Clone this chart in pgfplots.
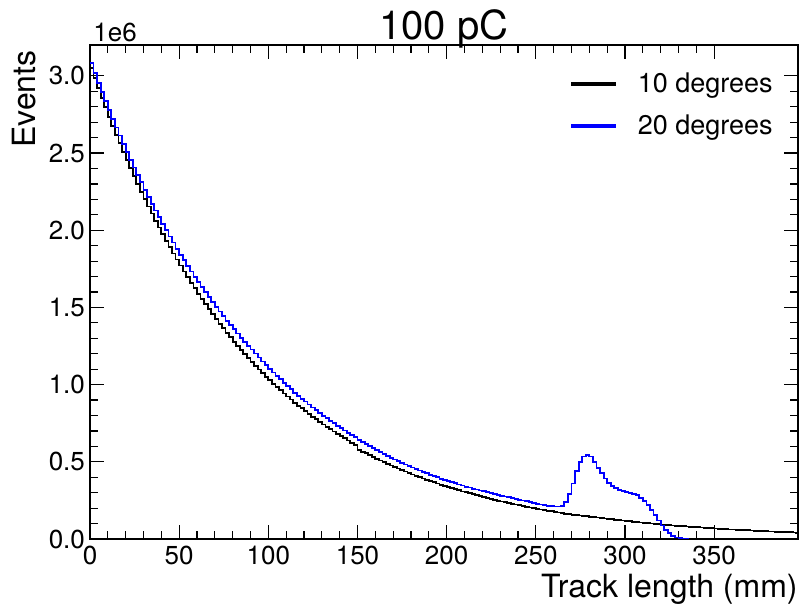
\documentclass[border=0pt]{standalone}
\usepackage{fontspec}
\setmainfont{TeX Gyre Heros}
\usepackage{pgfplots}
\pgfplotsset{compat=1.18}
\begin{document}
\begin{tikzpicture}
\begin{axis}[
 scale only axis, width=354pt, height=247pt,
 xmin=0, xmax=397, ymin=0, ymax=3.2,
 axis line style={line width=1pt},
 tick align=inside, xtick pos=both, ytick pos=both,
 xticklabel pos=lower, yticklabel pos=left,
 xtick={0,50,100,150,200,250,300,350}, minor x tick num=4,
 ytick={0,0.5,1,1.5,2,2.5,3}, minor y tick num=4,
 major tick length=7pt, minor tick length=4pt,
 tick style={black, line width=0.6pt},
 yticklabel style={xshift=1pt, /pgf/number format/.cd, fixed, fixed zerofill, precision=1},
 /pgf/number format/assume math mode=true,
 ticklabel style={font=\fontsize{13}{15}\selectfont},
 title={100 pC},
 every axis title/.style={at={(0.5,1)}, anchor=base, yshift=2.5pt, inner sep=0pt, font=\fontsize{20}{24}\selectfont},
 xlabel={Track length (mm)},
 xlabel style={at={([yshift=-29.5pt]axis description cs:1,0)}, anchor=base east, inner sep=0pt, font=\fontsize{16}{19}\selectfont},
 ylabel={Events},
 ylabel style={at={([xshift=-27pt,yshift=-2.5pt]axis description cs:0,1)}, anchor=base east, inner sep=0pt, font=\fontsize{16}{19}\selectfont},
 legend cell align=left,
 legend image code/.code={\fill[#1] (0pt,-0.5pt) rectangle (21.5pt,0.5pt); \path (30.5pt,-10pt) (30.5pt,10pt);},
 legend style={at={([xshift=-7.5pt,yshift=-7pt]axis description cs:1,1)}, anchor=north east, draw=none, font=\fontsize{13.5}{16}\selectfont},
]
\addplot[color=black, line width=0.9pt, const plot mark left] coordinates {
(0,3.050)(2,2.984)(4,2.920)(6,2.857)(8,2.796)(10,2.736)(12,2.677)(14,2.619)(16,2.563)(18,2.508)
(20,2.454)(22,2.401)(24,2.350)(26,2.299)(28,2.250)(30,2.201)(32,2.154)(34,2.108)(36,2.062)(38,2.018)
(40,1.975)(42,1.932)(44,1.891)(46,1.850)(48,1.810)(50,1.771)(52,1.733)(54,1.696)(56,1.659)(58,1.624)
(60,1.589)(62,1.555)(64,1.521)(66,1.489)(68,1.457)(70,1.425)(72,1.395)(74,1.365)(76,1.335)(78,1.307)
(80,1.278)(82,1.251)(84,1.224)(86,1.198)(88,1.172)(90,1.147)(92,1.122)(94,1.098)(96,1.074)(98,1.051)
(100,1.029)(102,1.006)(104,0.985)(106,0.964)(108,0.943)(110,0.923)(112,0.903)(114,0.883)(116,0.864)(118,0.846)
(120,0.828)(122,0.810)(124,0.792)(126,0.775)(128,0.759)(130,0.742)(132,0.726)(134,0.711)(136,0.696)(138,0.681)
(140,0.666)(142,0.652)(144,0.638)(146,0.624)(148,0.610)(150,0.579)(152,0.566)(154,0.555)(156,0.543)(158,0.532)
(160,0.520)(162,0.508)(164,0.498)(166,0.487)(168,0.476)(170,0.467)(172,0.456)(174,0.446)(176,0.437)(178,0.428)
(180,0.418)(182,0.409)(184,0.401)(186,0.392)(188,0.383)(190,0.375)(192,0.367)(194,0.359)(196,0.351)(198,0.344)
(200,0.337)(202,0.329)(204,0.322)(206,0.315)(208,0.308)(210,0.302)(212,0.296)(214,0.289)(216,0.283)(218,0.276)
(220,0.271)(222,0.265)(224,0.259)(226,0.253)(228,0.248)(230,0.243)(232,0.238)(234,0.233)(236,0.228)(238,0.223)
(240,0.218)(242,0.213)(244,0.209)(246,0.204)(248,0.200)(250,0.196)(252,0.191)(254,0.187)(256,0.183)(258,0.179)
(260,0.176)(262,0.172)(264,0.168)(266,0.164)(268,0.161)(270,0.158)(272,0.155)(274,0.152)(276,0.149)(278,0.147)
(280,0.144)(282,0.142)(284,0.139)(286,0.136)(288,0.133)(290,0.130)(292,0.128)(294,0.125)(296,0.122)(298,0.120)
(300,0.117)(302,0.114)(304,0.112)(306,0.110)(308,0.107)(310,0.105)(312,0.103)(314,0.100)(316,0.098)(318,0.096)
(320,0.094)(322,0.092)(324,0.090)(326,0.088)(328,0.086)(330,0.084)(332,0.083)(334,0.081)(336,0.079)(338,0.077)
(340,0.076)(342,0.074)(344,0.072)(346,0.071)(348,0.069)(350,0.068)(352,0.066)(354,0.065)(356,0.064)(358,0.062)
(360,0.061)(362,0.060)(364,0.058)(366,0.057)(368,0.056)(370,0.055)(372,0.053)(374,0.052)(376,0.051)(378,0.050)
(380,0.049)(382,0.048)(384,0.047)(386,0.046)(388,0.045)(390,0.044)(392,0.043)(394,0.042)(396,0.041)(398,0.040)
(400,0.040)
};
\addlegendentry{10 degrees}
\addplot[color=blue, line width=0.9pt, const plot mark left] coordinates {
(0,3.081)(2,3.017)(4,2.955)(6,2.897)(8,2.838)(10,2.780)(12,2.723)(14,2.666)(16,2.614)(18,2.561)
(20,2.508)(22,2.456)(24,2.406)(26,2.359)(28,2.311)(30,2.263)(32,2.216)(34,2.171)(36,2.128)(38,2.085)
(40,2.042)(42,2.000)(44,1.959)(46,1.920)(48,1.881)(50,1.842)(52,1.805)(54,1.769)(56,1.733)(58,1.699)
(60,1.664)(62,1.631)(64,1.598)(66,1.566)(68,1.535)(70,1.503)(72,1.474)(74,1.444)(76,1.414)(78,1.387)
(80,1.358)(82,1.331)(84,1.304)(86,1.278)(88,1.252)(90,1.227)(92,1.201)(94,1.176)(96,1.150)(98,1.126)
(100,1.103)(102,1.078)(104,1.056)(106,1.034)(108,1.012)(110,0.991)(112,0.970)(114,0.948)(116,0.928)(118,0.909)
(120,0.890)(122,0.871)(124,0.852)(126,0.834)(128,0.817)(130,0.799)(132,0.782)(134,0.766)(136,0.750)(138,0.734)
(140,0.718)(142,0.703)(144,0.688)(146,0.673)(148,0.659)(150,0.640)(152,0.626)(154,0.613)(156,0.600)(158,0.587)
(160,0.574)(162,0.561)(164,0.550)(166,0.538)(168,0.526)(170,0.515)(172,0.504)(174,0.494)(176,0.483)(178,0.473)
(180,0.463)(182,0.453)(184,0.444)(186,0.434)(188,0.425)(190,0.416)(192,0.407)(194,0.399)(196,0.391)(198,0.384)
(200,0.376)(202,0.368)(204,0.361)(206,0.353)(208,0.346)(210,0.339)(212,0.333)(214,0.326)(216,0.320)(218,0.314)
(220,0.309)(222,0.303)(224,0.297)(226,0.291)(228,0.286)(230,0.280)(232,0.275)(234,0.270)(236,0.265)(238,0.259)
(240,0.254)(242,0.249)(244,0.244)(246,0.239)(248,0.234)(250,0.229)(252,0.224)(254,0.220)(256,0.216)(258,0.213)
(260,0.211)(262,0.210)(264,0.216)(266,0.240)(268,0.290)(270,0.360)(272,0.440)(274,0.500)(276,0.535)(278,0.545)
(280,0.535)(282,0.500)(284,0.462)(286,0.425)(288,0.392)(290,0.362)(292,0.342)(294,0.328)(296,0.318)(298,0.311)
(300,0.305)(302,0.300)(304,0.293)(306,0.283)(308,0.268)(310,0.248)(312,0.222)(314,0.190)(316,0.155)(318,0.120)
(320,0.088)(322,0.060)(324,0.037)(326,0.020)(328,0.010)(330,0.004)(332,0.001)(334,0.000)(336,0.000)
};
\addlegendentry{20 degrees}
\end{axis}
\node[anchor=base west, inner sep=0pt, font=\fontsize{13}{15}\selectfont] at ([xshift=1.5pt,yshift=1.5pt]current axis.north west) {1e6};
\pgfresetboundingbox
\useasboundingbox ([xshift=-45pt,yshift=-35.5pt]current axis.south west) rectangle ([xshift=1pt,yshift=22.5pt]current axis.north east);
\end{tikzpicture}
\end{document}
